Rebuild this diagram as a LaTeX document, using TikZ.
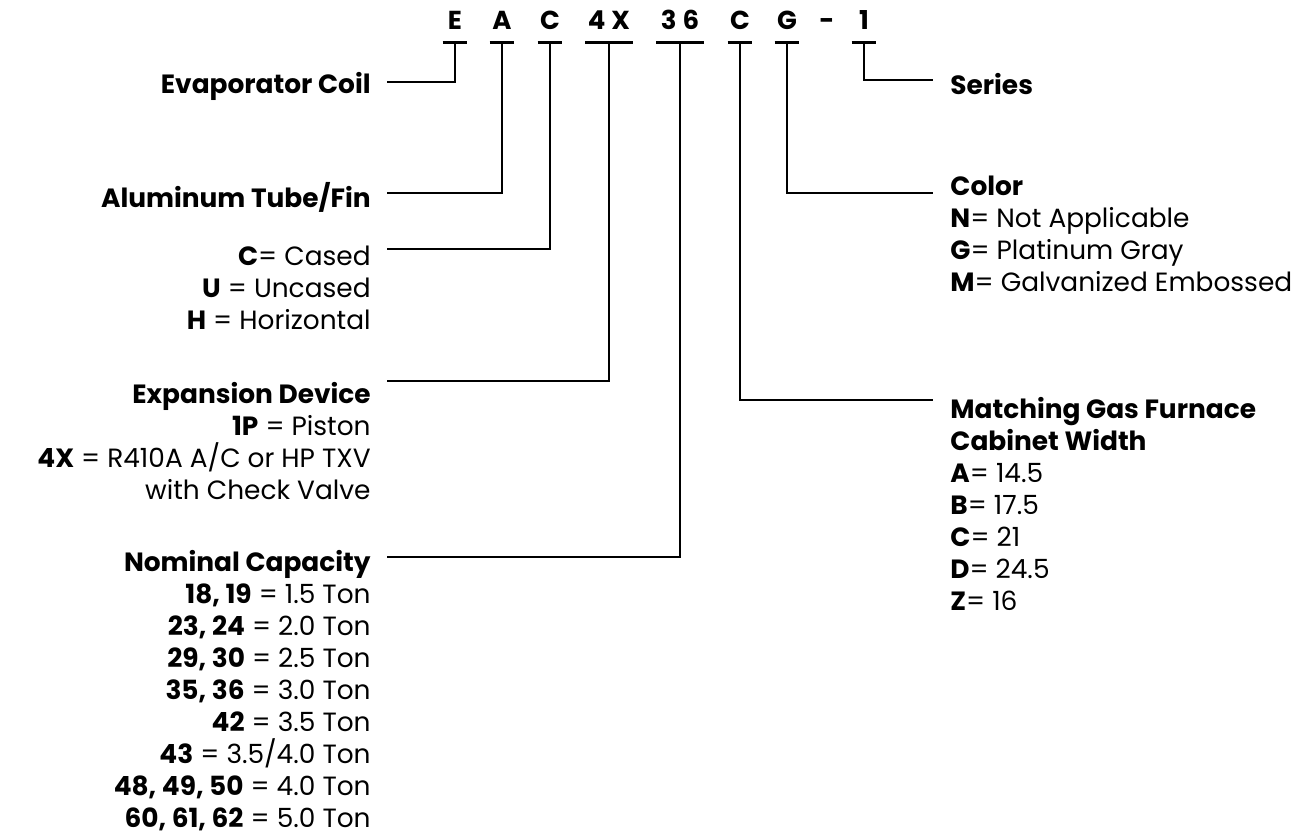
\documentclass[tikz,border=0pt]{standalone}
\usepackage{fontspec}
\setmainfont{Poppins}

\begin{document}
\begin{tikzpicture}[x=0.5pt, y=-0.5pt,
  every node/.style={font=\fontsize{13.2}{16}\selectfont, inner sep=0pt},
  code/.style={font=\fontsize{13}{16}\selectfont\bfseries, anchor=base, text depth=6pt, minimum width=12pt},
  wide/.style={minimum width=23.5pt},
  bar/.style={line width=1.5pt},
  lead/.style={line width=1pt},
  left label/.style={anchor=base east, align=right},
  right label/.style={anchor=base west, align=left}]
	\useasboundingbox (0,0) rectangle (1302,835);
	\node[code] (codeE) at (455,30) {E};
	\node[code] (codeA) at (502,30) {A};
	\node[code] (codeC) at (550,30) {C};
	\node[code, wide] (codeX) at (609,30) {4\hspace{3pt}X};
	\node[code, wide] (codeN) at (680,30) {3\hspace{3pt}6};
	\node[code] (codeW) at (740,30) {C};
	\node[code] (codeG) at (787,30) {G};
	\node[code] (dash) at (827,30) {-};
	\node[code] (codeS) at (864,30) {1};
	\foreach \n in {codeE,codeA,codeC,codeX,codeN,codeW,codeG,codeS}
		\draw[bar] (\n.south west) -- (\n.south east);
	\node[left label] (coil) at (371,93) {\textbf{Evaporator Coil}};
	\node[left label] (fin) at (371,207) {\textbf{Aluminum Tube/Fin}};
	\node[left label] (casing) at (371,329) {\textbf{C}= Cased\\\textbf{U} = Uncased\\\textbf{H} = Horizontal};
	\node[left label] (device) at (371,499) {\textbf{Expansion Device}\\\textbf{1P} = Piston\\\textbf{4X} = R410A A/C or HP TXV\\with Check Valve};
	\node[left label] (capacity) at (371,827) {\textbf{Nominal Capacity}\\\textbf{18, 19} = 1.5 Ton\\\textbf{23, 24} = 2.0 Ton\\\textbf{29, 30} = 2.5 Ton\\\textbf{35, 36} = 3.0 Ton\\\textbf{42} = 3.5 Ton\\\textbf{43} = 3.5/4.0 Ton\\\textbf{48, 49, 50} = 4.0 Ton\\\textbf{60, 61, 62} = 5.0 Ton};
	\node[right label] (series) at (950,94) {\textbf{Series}};
	\node[right label] (color) at (950,291) {\textbf{Color}\\\textbf{N}= Not Applicable\\\textbf{G}= Platinum Gray\\\textbf{M}= Galvanized Embossed};
	\node[right label] (width) at (950,610) {\textbf{Matching Gas Furnace}\\\textbf{Cabinet Width}\\\textbf{A}= 14.5\\\textbf{B}= 17.5\\\textbf{C}= 21\\\textbf{D}= 24.5\\\textbf{Z}= 16};
	\coordinate (coilEnd) at (387,82);
	\coordinate (finEnd) at (387,193);
	\coordinate (casingEnd) at (387,249);
	\coordinate (deviceEnd) at (387,381);
	\coordinate (capacityEnd) at (387,557);
	\coordinate (seriesEnd) at (933,80);
	\coordinate (colorEnd) at (933,193);
	\coordinate (widthEnd) at (933,400);
	\foreach \c/\e in {codeE/coilEnd, codeA/finEnd, codeC/casingEnd, codeX/deviceEnd, codeN/capacityEnd, codeS/seriesEnd, codeG/colorEnd, codeW/widthEnd}
		\draw[lead] (\c.south) |- (\e);
\end{tikzpicture}
\end{document}
